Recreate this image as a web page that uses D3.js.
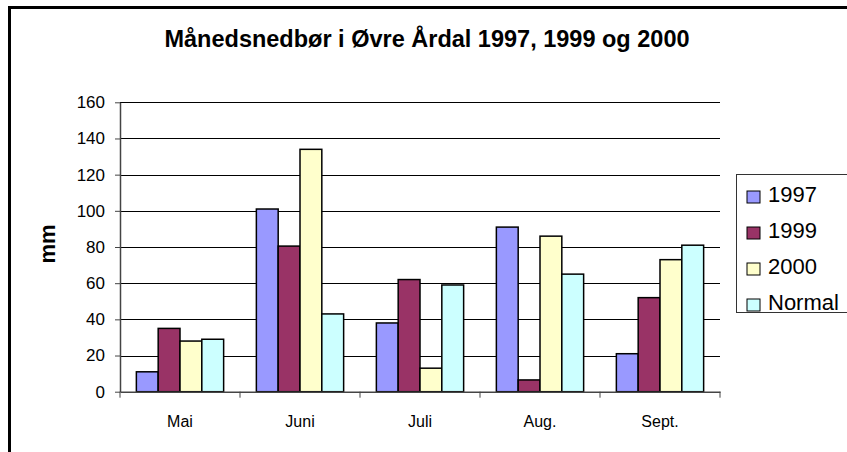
<!DOCTYPE html>
<html>
<head>
<meta charset="utf-8">
<script src="https://cdn.jsdelivr.net/npm/d3@7"></script>
<style>
  html, body { margin: 0; padding: 0; background: #fff; }
  svg { display: block; font-family: "Liberation Sans", Arial, sans-serif; }
</style>
</head>
<body>
<svg id="chart" width="847" height="452"></svg>
<script>
const months = ["Mai", "Juni", "Juli", "Aug.", "Sept."];
const seriesNames = ["1997", "1999", "2000", "Normal"];
const v1997   = [11, 101, 38, 91, 21];
const v1999   = [35, 80.5, 62, 6.5, 52];
const v2000   = [28, 134, 13, 86, 73];
const vNormal = [29, 43, 59, 65, 81];
const colors = ["#9999FF", "#993366", "#FFFFCC", "#CCFFFF"];
const yTicks = [0, 20, 40, 60, 80, 100, 120, 140, 160];
const titleText = "Månedsnedbør i Øvre Årdal 1997, 1999 og 2000";
const yLabel = "mm";

const seriesValues = [v1997, v1999, v2000, vNormal];

const svg = d3.select("#chart");
const plot = { left: 120, right: 720, top: 102.3, bottom: 391.7 };

// outer border
svg.append("rect")
  .attr("x", 9.5).attr("y", 7.5)
  .attr("width", 900).attr("height", 500)
  .attr("fill", "#fff").attr("stroke", "#000").attr("stroke-width", 3);

// title
svg.append("text")
  .attr("x", 427).attr("y", 47)
  .attr("text-anchor", "middle")
  .attr("font-weight", "bold")
  .attr("font-size", 23.5)
  .text(titleText);

const x0 = d3.scaleBand().domain(months).range([plot.left, plot.right]).paddingInner(0).paddingOuter(0);
const x1 = d3.scaleBand().domain(seriesNames).range([0, x0.bandwidth()]).paddingInner(0).paddingOuter(0.75);
const y = d3.scaleLinear().domain([0, 160]).range([plot.bottom, plot.top]);

// gridlines
svg.append("g").selectAll("line")
  .data(yTicks.filter(d => d > 0))
  .join("line")
  .attr("x1", plot.left).attr("x2", plot.right)
  .attr("y1", d => Math.round(y(d)) + 0.5).attr("y2", d => Math.round(y(d)) + 0.5)
  .attr("stroke", "#000").attr("stroke-width", 1);

// bars
const groups = svg.append("g").selectAll("g")
  .data(months)
  .join("g")
  .attr("transform", d => `translate(${x0(d)},0)`);

groups.selectAll("rect")
  .data((m, i) => seriesNames.map((s, j) => ({ s, v: seriesValues[j][i], c: colors[j] })))
  .join("rect")
  .attr("x", d => x1(d.s))
  .attr("y", d => y(d.v))
  .attr("width", x1.bandwidth())
  .attr("height", d => y(0) - y(d.v))
  .attr("fill", d => d.c)
  .attr("stroke", "#000")
  .attr("stroke-width", 1.5);

// y axis
const yAxis = svg.append("g")
  .attr("transform", `translate(${plot.left},0)`)
  .call(d3.axisLeft(y).tickValues(yTicks).tickSize(5).tickPadding(10).tickSizeOuter(0));
yAxis.select(".domain").attr("stroke", "#444").attr("stroke-width", 1.5);
yAxis.selectAll(".tick line").attr("stroke", "#444");
yAxis.selectAll("text").attr("font-size", 17).attr("fill", "#000")
  .attr("font-family", "'Liberation Sans', Arial, sans-serif");

// x axis
const xAxis = svg.append("g")
  .attr("transform", `translate(0,${plot.bottom})`)
  .call(d3.axisBottom(x0).tickSize(0).tickPadding(24));
xAxis.select(".domain").attr("stroke", "#444").attr("stroke-width", 1.5);
xAxis.selectAll("text").attr("font-size", 16).attr("fill", "#000")
  .attr("font-family", "'Liberation Sans', Arial, sans-serif");
// category boundary ticks
const bounds = months.map(m => x0(m)).concat([plot.right]);
svg.append("g").selectAll("line")
  .data(bounds)
  .join("line")
  .attr("x1", d => d).attr("x2", d => d)
  .attr("y1", plot.bottom).attr("y2", plot.bottom + 6)
  .attr("stroke", "#444").attr("stroke-width", 1);

// y label
svg.append("text")
  .attr("transform", "translate(55,244) rotate(-90)")
  .attr("text-anchor", "middle")
  .attr("font-weight", "bold")
  .attr("font-size", 22)
  .text(yLabel);

// legend
const legend = svg.append("g");
legend.append("rect")
  .attr("x", 736.5).attr("y", 174.5)
  .attr("width", 200).attr("height", 138)
  .attr("fill", "#fff").attr("stroke", "#333").attr("stroke-width", 1);
const items = legend.selectAll("g.item")
  .data(seriesNames)
  .join("g")
  .attr("class", "item")
  .attr("transform", (d, i) => `translate(747,${191 + i * 36})`);
items.append("rect")
  .attr("width", 13).attr("height", 12)
  .attr("fill", (d, i) => colors[i])
  .attr("stroke", "#000").attr("stroke-width", 1);
items.append("text")
  .attr("x", 21).attr("y", 11)
  .attr("font-size", 22)
  .text(d => d);
</script>
</body>
</html>
